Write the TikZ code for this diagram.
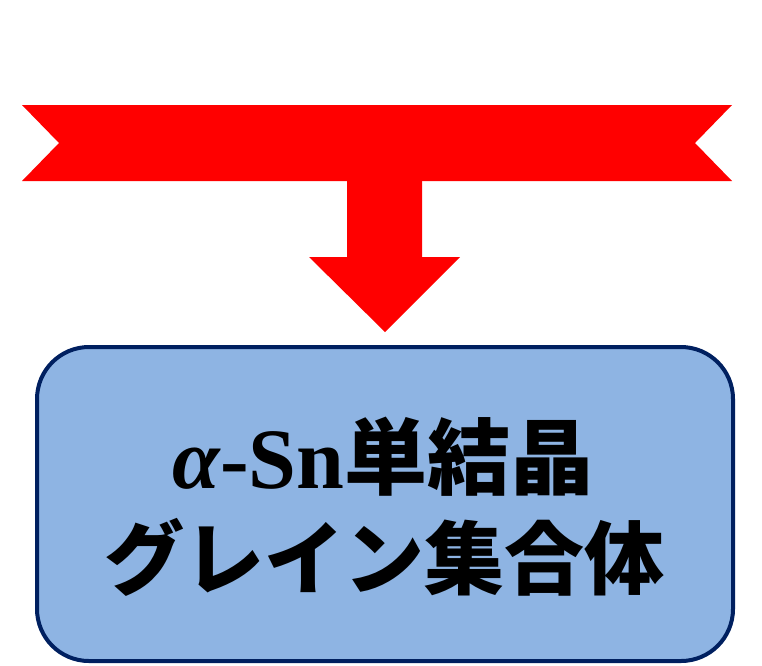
\documentclass[tikz,border=0pt]{standalone}
\usepackage{fontspec}
\setmainfont{Liberation Serif}
\newfontfamily\cjk{Noto Sans CJK JP}
\definecolor{arrred}{HTML}{FF0000}
\definecolor{boxfill}{HTML}{8EB4E3}
\definecolor{boxline}{HTML}{002060}
\tikzset{
  redshape/.style={fill=arrred, draw=none},
  mainbox/.style={draw=boxline, fill=boxfill, line width=4pt, rounded corners=52pt,
    minimum width=696pt, minimum height=314pt, inner sep=0pt},
  bigtext/.style={font=\fontsize{80}{96}\selectfont, inner sep=0pt, anchor=base}
}
\begin{document}
\begin{tikzpicture}[x=1pt,y=-1pt]
\useasboundingbox (0,0) rectangle (762,665);
% banner
\fill[redshape] (22,105) -- (732,105) -- (695,143) -- (732,181) -- (22,181) -- (59,143) -- cycle;
% down arrow
\fill[redshape] (347,180) -- (422,180) -- (422,257) -- (460,257) -- (385,332) -- (309,257) -- (347,257) -- cycle;
% box
\node[mainbox] (box) at (385,504) {};
\node[bigtext] (l1) at (383,488) {\fontsize{86}{100}\selectfont\bfseries\itshape α\upshape -Sn\cjk\bfseries\fontsize{83}{100}\selectfont 単結晶};
\node[bigtext] (l2) at (384,588) {\cjk\bfseries グレイン集合体};
\end{tikzpicture}
\end{document}
